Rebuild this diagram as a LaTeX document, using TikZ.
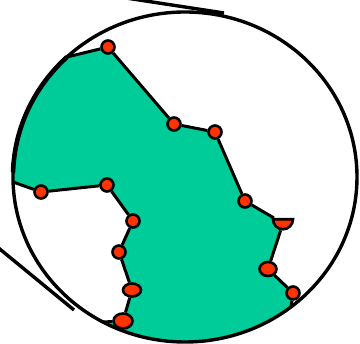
\documentclass[tikz,border=0pt]{standalone}
\usepackage{tikz}
\usetikzlibrary{shapes.geometric}
\definecolor{regiongreen}{RGB}{0,204,153}
\definecolor{dotred}{RGB}{255,51,0}
\pgfdeclarelayer{bg}
\pgfsetlayers{bg,main}
\begin{document}
\begin{tikzpicture}[x=1pt, y=-1pt,
    dot/.style={circle, draw, fill=dotred, line width=2.6pt, inner sep=0pt, minimum size=13pt},
    oval/.style={ellipse, draw, fill=dotred, line width=2.6pt, inner sep=0pt},
    halfdot/.style={semicircle, shape border rotate=180, draw, fill=dotred, line width=2.6pt, inner sep=0pt, minimum width=20pt},
    seam/.style={line width=3pt},
    rim/.style={line width=3.4pt}]
                \useasboundingbox (0,0) rectangle (360,344);
                \clip (0,0) rectangle (360,344);
                % points where the region meets the rim
                \coordinate (c1) at (67,57);
                \coordinate (c2) at (13,182);
                \coordinate (c3) at (103,322);
                \coordinate (c4) at (291,307);
                % dots, upper edge
                \node[dot] (d1) at (108,47) {};
                \node[dot] (d2) at (174,124) {};
                \node[dot] (d3) at (215,132) {};
                \node[dot] (d4) at (245,201) {};
                \node[halfdot, anchor=chord center] (d5) at (283,218) {};
                \node[oval, minimum width=17pt, minimum height=14pt] (d6) at (268,269) {};
                \node[dot] (d7) at (293,293) {};
                % dots, lower edge
                \node[dot] (d8) at (41,192) {};
                \node[dot] (d9) at (107,185) {};
                \node[dot] (d10) at (133,221) {};
                \node[dot] (d11) at (119,252) {};
                \node[oval, minimum width=18pt, minimum height=13pt] (d12) at (132,290) {};
                \node[oval, minimum width=19pt, minimum height=15pt] (d13) at (123,321) {};
                \begin{pgfonlayer}{bg}
                    \begin{scope}
                        \clip (185,177) ellipse [x radius=172, y radius=165];
                        \fill[regiongreen] (-10,174) -- (c2) -- (d8.center) -- (d9.center) -- (d10.center)
                            -- (d11.center) -- (d12.center) -- (d13.center) -- (c3) -- (60,326) -- (60,400)
                            -- (320,400) -- (288,330) -- (c4) -- (d7.center) -- (d6.center) -- (d5.center)
                            -- (d4.center) -- (d3.center) -- (d2.center) -- (d1.center) -- (c1) -- (40,64)
                            -- (-10,64) -- cycle;
                    \end{scope}
                    \draw[rim] (185,177) ellipse [x radius=172, y radius=165];
                    \draw[rim, line width=4.6pt] (c1) arc [start angle=-133.3, end angle=-178.3, x radius=172, y radius=165];
                \end{pgfonlayer}
                % callout lines
                \coordinate (ta) at (100,-6);
                \coordinate (tb) at (224,13);
                \coordinate (la) at (-10,241);
                \coordinate (lb) at (74,310);
                \draw[rim] (ta) -- (tb);
                \draw[rim] (la) -- (lb);
                % region outline
                \draw[seam] (c1) -- (d1) -- (d2) -- (d3) -- (d4) -- (d5) -- (d6) -- (d7) -- (c4);
                \draw[seam] (c2) -- (d8) -- (d9) -- (d10) -- (d11) -- (d12) -- (d13) -- (c3);
            \end{tikzpicture}
\end{document}
